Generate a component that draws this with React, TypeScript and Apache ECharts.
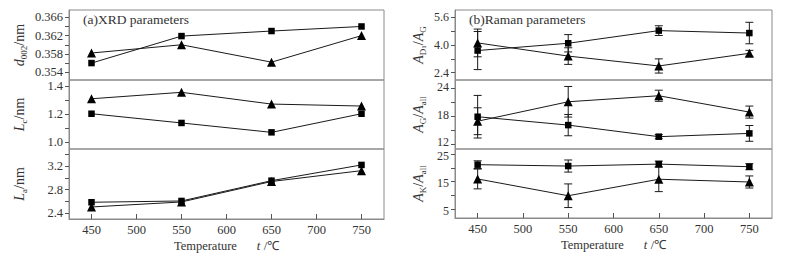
import React, { useEffect, useRef } from "react";
import * as echarts from "echarts";

const temps = [450, 550, 650, 750];
const xTicks = [450, 500, 550, 600, 650, 700, 750];

// (a) XRD parameters
const d002Square = [0.356, 0.3619, 0.363, 0.364];
const d002Triangle = [0.3582, 0.36, 0.3562, 0.362];
const lcSquare = [1.202, 1.136, 1.069, 1.202];
const lcTriangle = [1.309, 1.355, 1.271, 1.257];
const laSquare = [2.584, 2.606, 2.954, 3.224];
const laTriangle = [2.503, 2.589, 2.94, 3.126];

// (b) Raman parameters
const adSquare = [3.68, 4.1, 4.83, 4.69];
const adSquareErr = [1.1, 0.5, 0.28, 0.62];
const adTriangle = [4.12, 3.36, 2.79, 3.52];
const adTriangleErr = [0.8, 0.48, 0.41, 0.17];
const agSquare = [17.87, 16.06, 13.56, 14.27];
const agSquareErr = [4.6, 2.3, 0.45, 1.7];
const agTriangle = [16.9, 21.1, 22.4, 18.87];
const agTriangleErr = [2.9, 3.3, 1.2, 1.3];
const akSquare = [21.2, 20.7, 21.4, 20.45];
const akSquareErr = [1.4, 2.2, 1.1, 1.1];
const akTriangle = [16.0, 9.9, 15.9, 14.9];
const akTriangleErr = [3.6, 4.3, 4.5, 2.2];

// tick labels / ticks
const d002Labels = [0.354, 0.358, 0.362, 0.366];
const d002Ticks = [0.354, 0.356, 0.358, 0.36, 0.362, 0.364, 0.366];
const lcLabels = [1.0, 1.2, 1.4];
const lcTicks = [1.0, 1.1, 1.2, 1.3, 1.4];
const laLabels = [2.4, 2.8, 3.2];
const laTicks = [2.4, 2.6, 2.8, 3.0, 3.2, 3.4];
const adLabels = [2.4, 4.0, 5.6];
const adTicks = [2.4, 3.2, 4.0, 4.8, 5.6];
const agLabels = [12, 18, 24];
const agTicks = [12, 15, 18, 21, 24];
const akLabels = [5, 15, 25];
const akTicks = [5, 10, 15, 20, 25];

const FONT = "'Liberation Serif', 'Times New Roman', serif";
const TEXT = "#333333";
const FRAME = "#8a8a8a";
const LINE = "#1a1a1a";

const nameRich = {
  i: { fontFamily: FONT, fontSize: 14, fontStyle: "italic", color: TEXT, lineHeight: 18 },
  n: { fontFamily: FONT, fontSize: 14, color: TEXT, lineHeight: 18 },
  s: { fontFamily: FONT, fontSize: 9, color: TEXT, lineHeight: 8, verticalAlign: "bottom" },
  ss: { fontFamily: FONT, fontSize: 7, color: TEXT, lineHeight: 6, verticalAlign: "bottom" },
};

export default function App() {
  const ref = useRef<HTMLDivElement>(null);
  useEffect(() => {
    if (!ref.current) return;
    const chart = echarts.init(ref.current, null, { renderer: "svg" });

    const tops = [10, 80, 149];
    const heights = [70, 69, 70];
    const grids: any[] = [];
    [69, 455].forEach((left, side) => {
      tops.forEach((top, k) => {
        grids.push({
          left,
          top,
          width: side === 0 ? 315 : 317,
          height: side === 1 && k === 2 ? 69 : heights[k],
          show: true,
          borderColor: FRAME,
          borderWidth: 1,
          backgroundColor: "transparent",
          containLabel: false,
        });
      });
    });

    const xAxes = grids.map((_, gi) => {
      const bottom = gi % 3 === 2;
      return {
        type: "value",
        gridIndex: gi,
        min: 425,
        max: 775,
        show: bottom,
        axisLine: { show: true, lineStyle: { color: FRAME } },
        axisTick: {
          show: bottom,
          inside: true,
          length: 5,
          lineStyle: { color: "#555" },
          customValues: xTicks,
        },
        axisLabel: {
          show: bottom,
          customValues: xTicks,
          fontFamily: FONT,
          fontSize: 12.5,
          color: TEXT,
          margin: 4,
        },
        splitLine: { show: false },
        name: bottom ? "{n|Temperature}      {i|t} {n|/℃}" : "",
        nameLocation: "middle",
        nameGap: 20,
        nameTextStyle: {
          rich: {
            n: { fontFamily: FONT, fontSize: 12.5, color: TEXT },
            i: { fontFamily: FONT, fontSize: 12.5, fontStyle: "italic", color: TEXT },
          },
        },
      };
    });

    const yDefs = [
      { min: 0.3523, max: 0.3676, labels: d002Labels, ticks: d002Ticks, dec: 3, name: "{i|d}{s|002}{n|/nm}", gap: 41, va: "middle", lh: 12, fs: 12.5 },
      { min: 0.95, max: 1.443, labels: lcLabels, ticks: lcTicks, dec: 1, name: "{i|L}{s|c}{n|/nm}", gap: 41, va: "middle", lh: 12, fs: 12.5 },
      { min: 2.297, max: 3.497, labels: laLabels, ticks: laTicks, dec: 1, name: "{i|L}{s|a}{n|/nm}", gap: 41, va: "middle", lh: 12, fs: 12.5 },
      { min: 1.98, max: 6.02, labels: adLabels, ticks: adTicks, dec: 1, name: "{i|A}{s|D}{ss|1}{n|/}{i|A}{s|G}", gap: 28, va: "middle", lh: 12, fs: 12 },
      { min: 10.9, max: 25.8, labels: agLabels, ticks: agTicks, dec: 0, name: "{i|A}{s|G}{n|/}{i|A}{s|all}", gap: 28, va: "bottom", lh: 3, fs: 12 },
      { min: 1.8, max: 26.9, labels: akLabels, ticks: akTicks, dec: 0, name: "{i|A}{s|K}{n|/}{i|A}{s|all}", gap: 28, va: "top", lh: 3, fs: 12 },
    ];

    const yAxes = yDefs.map((d, gi) => ({
      type: "value",
      gridIndex: gi,
      min: d.min,
      max: d.max,
      axisLine: { show: true, lineStyle: { color: FRAME } },
      axisTick: {
        show: true,
        inside: false,
        length: 4,
        lineStyle: { color: "#555" },
        customValues: d.ticks,
      },
      axisLabel: {
        customValues: d.labels,
        formatter: (v: number) => v.toFixed(d.dec),
        fontFamily: FONT,
        fontSize: d.fs,
        verticalAlign: d.va,
        lineHeight: d.lh,
        color: TEXT,
        margin: 6,
      },
      splitLine: { show: false },
      name: d.name,
      nameLocation: "middle",
      nameRotate: 90,
      nameGap: d.gap,
      nameTextStyle: { rich: nameRich },
    }));

    const lineSeries = (gi: number, vals: number[], shape: string) => ({
      type: "line",
      xAxisIndex: gi,
      yAxisIndex: gi,
      data: temps.map((t, i) => [t, vals[i]]),
      symbol: shape === "sq" ? "rect" : "triangle",
      symbolSize: shape === "sq" ? 6.5 : 9,
      lineStyle: { color: LINE, width: 1 },
      itemStyle: { color: "#000" },
      z: 3,
    });

    const errSeries = (gi: number, vals: number[], errs: number[]) => ({
      type: "custom",
      xAxisIndex: gi,
      yAxisIndex: gi,
      data: temps.map((t, i) => [t, vals[i] - errs[i], vals[i] + errs[i]]),
      z: 2,
      renderItem: (params: any, api: any) => {
        const x = api.value(0);
        const lo = api.coord([x, api.value(1)]);
        const hi = api.coord([x, api.value(2)]);
        const w = 4;
        const st = { stroke: LINE, lineWidth: 1 };
        return {
          type: "group",
          children: [
            { type: "line", shape: { x1: hi[0], y1: hi[1], x2: lo[0], y2: lo[1] }, style: st },
            { type: "line", shape: { x1: hi[0] - w, y1: hi[1], x2: hi[0] + w, y2: hi[1] }, style: st },
            { type: "line", shape: { x1: lo[0] - w, y1: lo[1], x2: lo[0] + w, y2: lo[1] }, style: st },
          ],
        };
      },
    });

    const series: any[] = [
      lineSeries(0, d002Square, "sq"),
      lineSeries(0, d002Triangle, "tri"),
      lineSeries(1, lcSquare, "sq"),
      lineSeries(1, lcTriangle, "tri"),
      lineSeries(2, laSquare, "sq"),
      lineSeries(2, laTriangle, "tri"),
      errSeries(3, adSquare, adSquareErr),
      errSeries(3, adTriangle, adTriangleErr),
      lineSeries(3, adSquare, "sq"),
      lineSeries(3, adTriangle, "tri"),
      errSeries(4, agSquare, agSquareErr),
      errSeries(4, agTriangle, agTriangleErr),
      lineSeries(4, agSquare, "sq"),
      lineSeries(4, agTriangle, "tri"),
      errSeries(5, akSquare, akSquareErr),
      errSeries(5, akTriangle, akTriangleErr),
      lineSeries(5, akSquare, "sq"),
      lineSeries(5, akTriangle, "tri"),
    ];

    chart.setOption({
      animation: false,
      backgroundColor: "#fff",
      grid: grids,
      xAxis: xAxes,
      yAxis: yAxes,
      series,
      graphic: [
        {
          type: "text",
          left: 83,
          top: 12,
          style: { text: "(a)XRD parameters", fontFamily: FONT, fontSize: 13.5, fill: TEXT },
        },
        {
          type: "text",
          left: 469,
          top: 12,
          style: { text: "(b)Raman parameters", fontFamily: FONT, fontSize: 13.5, fill: TEXT },
        },
      ],
    });
    return () => chart.dispose();
  }, []);

  return (
    <div
      ref={ref}
      style={{ position: "fixed", left: 0, top: 0, width: 788, height: 258, background: "#fff" }}
    />
  );
}
